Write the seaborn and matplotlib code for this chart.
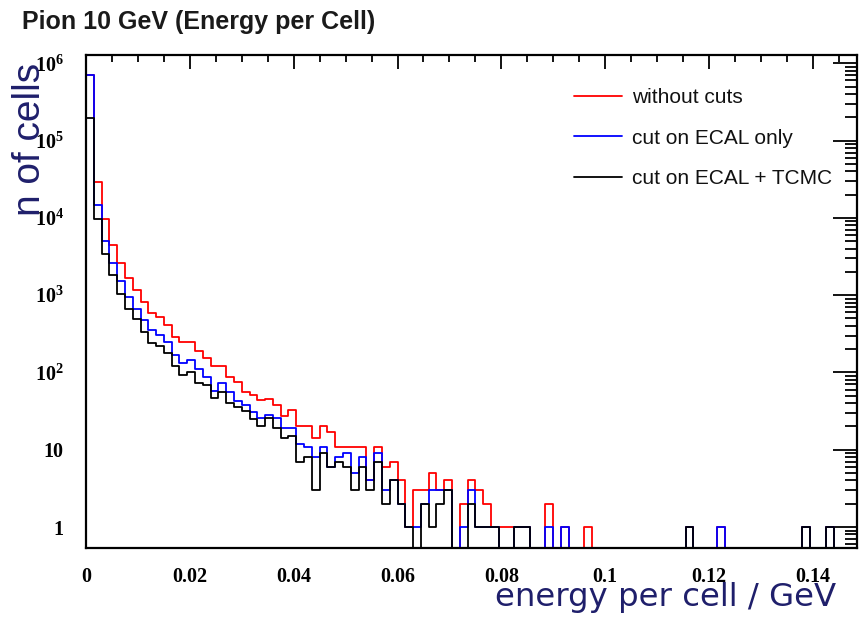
import numpy as np
import pandas as pd
import matplotlib
matplotlib.use("Agg")
import matplotlib.pyplot as plt
from matplotlib.lines import Line2D
from matplotlib.ticker import (FixedLocator, FixedFormatter, LogLocator,
                               MultipleLocator, FuncFormatter, NullFormatter)
import seaborn as sns

# Histogram binning: 99 bins of 1.5 MeV starting at zero
BIN_WIDTH = 0.0015
N_BINS = 99

series_names = ["without cuts", "cut on ECAL only", "cut on ECAL + TCMC"]

# Cell counts per bin for each selection
without_cuts = [
    700000, 29000, 9600, 4450, 2600, 1680, 1165, 815, 596, 526,
    410, 285, 247, 247, 190, 153, 121, 121, 87, 76,
    55, 51, 44, 45, 38, 27, 33, 20, 20, 14,
    20, 17, 11, 11, 11, 11, 4, 11, 6, 7,
    4, 1, 3, 3, 5, 3, 4, 0, 2, 4,
    3, 2, 1, 1, 1, 1, 1, 0, 0, 2,
    0, 1, 0, 0, 1, 0, 0, 0, 0, 0,
    0, 0, 0, 0, 0, 0, 0, 1, 0, 0,
    0, 1, 0, 0, 0, 0, 0, 0, 0, 0,
    0, 0, 1, 0, 0, 1, 0, 0, 0,
]

ecal_only = [
    700000, 14700, 5000, 2600, 1530, 955, 655, 476, 354, 305,
    245, 168, 131, 144, 112, 87, 58, 73, 55, 43,
    38, 31, 26, 28, 26, 19, 19, 12, 11, 8,
    11, 6, 8, 9, 5, 8, 4, 9, 3, 4,
    2, 1, 1, 2, 3, 3, 3, 0, 1, 3,
    1, 1, 1, 0, 0, 1, 1, 0, 0, 1,
    0, 1, 0, 0, 0, 0, 0, 0, 0, 0,
    0, 0, 0, 0, 0, 0, 0, 1, 0, 0,
    0, 1, 0, 0, 0, 0, 0, 0, 0, 0,
    0, 0, 1, 0, 0, 1, 0, 0, 0,
]

ecal_tcmc = [
    195000, 9600, 3450, 1800, 1030, 655, 486, 336, 242, 219,
    177, 121, 92, 102, 73, 68, 46, 56, 40, 36,
    32, 25, 20, 26, 19, 14, 15, 7, 8, 3,
    9, 6, 7, 6, 3, 6, 3, 7, 2, 4,
    2, 1, 0, 2, 1, 2, 3, 0, 0, 2,
    1, 1, 1, 0, 0, 1, 1, 0, 0, 0,
    0, 0, 0, 0, 0, 0, 0, 0, 0, 0,
    0, 0, 0, 0, 0, 0, 0, 1, 0, 0,
    0, 0, 0, 0, 0, 0, 0, 0, 0, 0,
    0, 0, 1, 0, 0, 1, 0, 0, 0,
]

x_ticks = [0, 0.02, 0.04, 0.06, 0.08, 0.10, 0.12, 0.14]
y_ticks = [1, 10, 1e2, 1e3, 1e4, 1e5, 1e6]
y_tick_labels = ["1", "10", r"$10^{2}$", r"$10^{3}$", r"$10^{4}$",
                 r"$10^{5}$", r"$10^{6}$"]

colors = {"without cuts": "#ff0000",
          "cut on ECAL only": "#0000ff",
          "cut on ECAL + TCMC": "#000000"}

sns.set_style("white")
plt.rcParams["font.family"] = ["Liberation Sans", "DejaVu Sans"]
plt.rcParams["mathtext.fontset"] = "custom"
plt.rcParams["mathtext.rm"] = "Liberation Serif:bold"
plt.rcParams["mathtext.it"] = "Liberation Serif:bold"
plt.rcParams["mathtext.bf"] = "Liberation Serif:bold"

edges = [i * BIN_WIDTH for i in range(N_BINS + 1)]
centers = [(edges[i] + edges[i + 1]) / 2 for i in range(N_BINS)]

frames = []
for name, counts in zip(series_names, [without_cuts, ecal_only, ecal_tcmc]):
    frames.append(pd.DataFrame({"energy": centers, "cells": counts,
                                "selection": name}))
df = pd.concat(frames, ignore_index=True)

W, H = 859, 621
fig = plt.figure(figsize=(W / 100, H / 100), dpi=100)
fig.patch.set_facecolor("white")
ax = fig.add_axes([86 / W, 1 - 548 / H, 771 / W, 493 / H])

# hue levels are drawn last-to-first, so the tightest selection ends on top
sns.histplot(data=df, x="energy", weights="cells", hue="selection",
             hue_order=series_names[::-1], palette=colors, bins=edges,
             element="step", fill=False, linewidth=1.3, legend=False, ax=ax)

ax.set_yscale("log")
ax.set_xlim(0, N_BINS * BIN_WIDTH)
ax.set_ylim(0.535, 1.28e6)

# x axis ticks
ax.xaxis.set_major_locator(FixedLocator(x_ticks))
ax.xaxis.set_minor_locator(MultipleLocator(0.005))
ax.xaxis.set_major_formatter(FuncFormatter(lambda v, p: "0" if v == 0 else f"{v:g}"))

# y axis ticks
ax.yaxis.set_major_locator(FixedLocator(y_ticks))
ax.yaxis.set_major_formatter(FixedFormatter(y_tick_labels))
ax.yaxis.set_minor_locator(LogLocator(base=10, subs=np.arange(2, 10)))
ax.yaxis.set_minor_formatter(NullFormatter())

ax.tick_params(axis="both", which="both", direction="in", top=True,
               right=True, width=1.3, color="black")
ax.tick_params(axis="x", which="major", length=10, pad=14)
ax.tick_params(axis="x", which="minor", length=5)
ax.tick_params(axis="y", which="major", length=17, pad=16)
ax.tick_params(axis="y", which="minor", length=8.5)
for lbl in ax.get_xticklabels() + ax.get_yticklabels():
    lbl.set_fontfamily("Liberation Serif")
    lbl.set_fontweight("bold")
    lbl.set_fontsize(14.5)
    lbl.set_color("black")

for sp in ax.spines.values():
    sp.set_visible(True)
    sp.set_color("black")
    sp.set_linewidth(1.6)

ax.set_xlabel("energy per cell / GeV", fontsize=23.3, color="#1f1f6b",
              fontfamily="DejaVu Sans", ha="right", va="baseline")
ax.xaxis.set_label_coords(0.9728, -0.1176)
ax.set_ylabel("n of cells", fontsize=28, color="#1f1f6b",
              ha="center", va="center")
ax.yaxis.set_label_coords(-0.0726, 0.8296)

handles = [Line2D([], [], color=colors[n], lw=1.3) for n in series_names]
ax.legend(handles, series_names, loc="upper left",
          bbox_to_anchor=(574 / W, 1 - 88 / H), bbox_transform=fig.transFigure,
          frameon=False, fontsize=15, handlelength=2.3, handletextpad=0.48,
          labelspacing=1.04, borderpad=0, borderaxespad=0,
          labelcolor="#111111")

fig.text(22 / W, 1 - 22 / H, "Pion 10 GeV (Energy per Cell)", fontsize=18,
         fontweight="bold", ha="left", va="center", color="#1a1a1a")

fig.savefig("out.png", dpi=100, facecolor="white")
